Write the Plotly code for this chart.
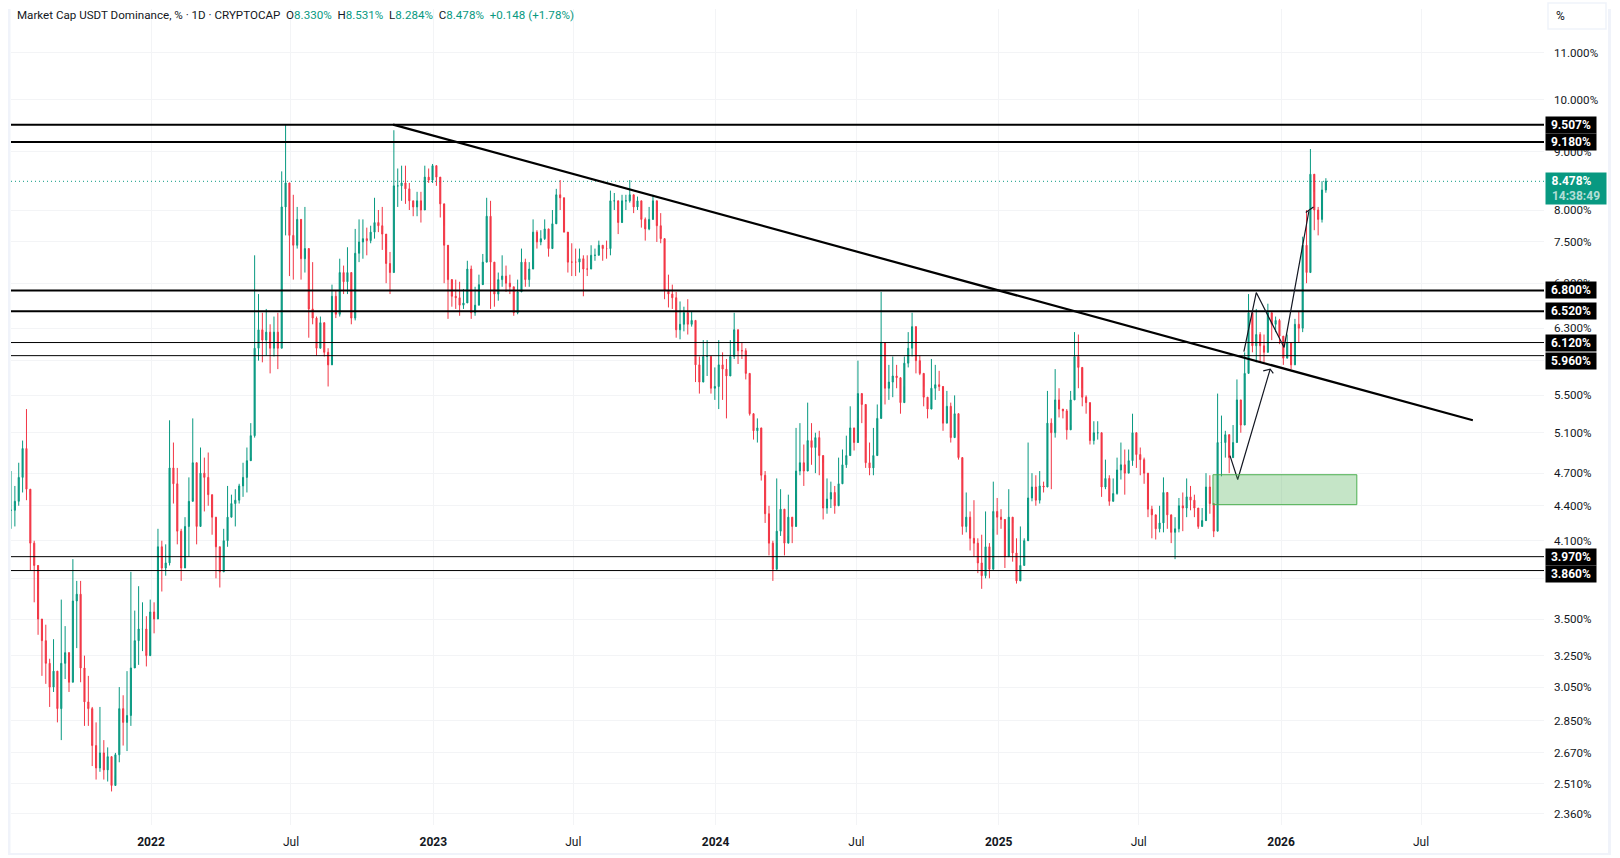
import numpy as np
import pandas as pd
import plotly.graph_objects as go

# candles, one bar per 5 days, segment by segment
closes = [
    4.36,4.44,4.66,4.94,4.55,4.08,3.90,3.50,3.35,3.20,3.05,3.15,2.92,3.20,3.27,3.08,3.63,3.68,3.17,2.96,2.92,2.71,2.59,2.67,2.58,2.65,2.50,2.66,2.92,2.84,2.88,3.17,3.35,3.43,3.43,3.25,3.55,3.50,4.05,3.88,3.92,4.75,4.60,4.18,3.88,4.22,4.44,4.80,4.22,4.70,4.66,4.50,4.30,4.05,3.85,4.10,4.30,
    4.42,4.45,4.58,4.66,4.82,5.07,6.05,6.28,6.15,6.25,6.05,6.25,6.05,8.05,8.45,7.60,7.45,7.85,7.25,7.40,6.55,6.43,6.05,6.37,6.00,5.85,6.72,6.48,7.05,6.92,7.05,6.43,7.33,7.50,7.55,7.52,7.65,7.80,7.75,7.62,7.18,7.05,8.40,8.40,8.45,8.35,8.15,8.05,8.15,8.00,8.55,8.50,8.75,8.55,8.10,7.45,6.95,
    6.72,6.70,6.60,6.63,7.10,6.50,6.60,6.88,7.20,7.90,7.20,6.75,6.95,7.00,6.90,6.85,6.50,6.78,7.20,6.95,7.10,7.65,7.50,7.55,7.70,7.40,7.78,8.25,8.20,7.65,7.20,7.20,7.20,7.25,7.10,7.10,7.30,7.30,7.45,7.40,7.40,8.15,8.15,7.80,8.15,8.15,8.25,8.05,8.15,7.85,7.70,7.85,8.15,7.75,7.55,6.80,6.75,
    6.70,6.28,6.35,6.50,6.35,6.40,5.85,5.65,5.95,5.95,5.58,5.60,5.85,5.80,5.72,5.95,6.28,6.02,6.02,5.75,5.30,5.12,5.15,4.68,4.33,4.08,3.87,4.18,4.37,4.08,4.30,4.22,4.72,4.80,4.72,5.02,4.95,5.05,4.87,4.38,4.46,4.52,4.40,4.60,4.78,4.87,5.15,5.00,5.52,5.40,4.80,4.75,4.87,5.25,6.12,5.58,5.65,
    5.72,5.70,5.42,5.87,6.05,6.32,5.90,5.75,5.48,5.35,5.58,5.62,5.60,5.20,5.38,5.05,5.30,4.85,4.22,4.30,4.12,4.08,3.92,3.82,4.05,3.87,4.35,4.30,4.28,3.97,4.30,4.00,3.78,3.90,4.10,4.47,4.57,4.45,4.58,4.57,5.20,5.10,5.45,5.35,5.33,5.13,5.45,5.95,5.82,5.48,5.42,5.02,5.10,5.10,4.57,4.65,4.44,
    4.51,4.73,4.78,4.70,4.82,5.10,4.88,4.83,4.70,4.37,4.32,4.20,4.25,4.52,4.32,4.17,4.20,4.40,4.38,4.48,4.45,4.38,4.22,4.27,4.57,4.42,4.18,5.00,5.00,5.08,4.85,5.00,5.45,5.18,5.75,6.50,6.08,6.22,6.08,6.00,6.50,6.35,6.40,6.20,5.93,6.12,5.85,6.35,6.30,7.45,7.05,8.60,8.00,7.85,8.33,8.478,
]
highs = [
    4.72,4.58,4.80,5.02,5.35,4.50,4.10,3.72,3.50,3.46,3.23,3.36,3.10,3.64,3.45,3.25,3.95,3.78,3.78,3.25,3.12,2.93,2.84,2.93,2.74,2.70,2.65,2.67,3.05,3.00,3.15,3.85,3.56,3.74,3.62,3.52,3.64,3.62,4.20,4.10,4.07,5.23,5.00,4.75,4.20,4.30,4.66,5.25,4.80,4.95,4.85,4.90,4.50,4.30,4.05,4.20,4.58,
    4.50,4.55,4.60,4.80,4.95,5.20,7.30,6.75,6.50,6.55,6.35,6.45,6.50,8.65,9.50,8.35,8.25,8.05,7.70,8.05,7.25,7.20,6.45,6.45,6.35,6.05,6.88,6.80,7.25,7.15,7.42,7.05,7.70,7.85,7.85,7.72,7.75,8.20,8.00,8.05,7.40,7.35,9.40,8.70,8.75,8.75,8.45,8.15,8.30,8.30,8.75,8.70,8.78,8.70,8.45,7.75,7.38,
    6.90,6.95,6.92,6.82,7.22,7.15,6.85,7.02,7.32,8.20,8.15,7.08,7.05,7.30,7.15,7.02,6.85,6.95,7.40,7.25,7.20,7.85,7.68,7.68,7.85,7.60,8.00,8.35,8.50,8.10,7.42,7.48,7.40,7.40,7.30,7.30,7.45,7.40,7.52,7.45,7.52,8.32,8.28,8.12,8.25,8.25,8.50,8.20,8.22,8.15,7.88,8.05,8.25,7.98,7.95,7.50,7.02,
    6.88,6.78,6.65,6.58,6.68,6.52,6.16,5.95,6.15,6.15,5.72,5.82,6.15,6.00,5.92,6.15,6.50,6.18,6.12,6.05,5.62,5.28,5.25,5.03,4.72,4.40,4.10,4.65,4.55,4.24,4.50,4.30,5.15,5.20,4.98,5.42,5.20,5.10,5.12,4.80,4.65,4.62,4.58,4.85,4.93,5.07,5.38,5.15,5.90,5.50,5.05,5.00,5.15,5.40,6.78,6.08,5.85,
    5.95,5.85,5.50,5.95,6.25,6.50,6.08,5.96,5.60,5.38,5.92,5.85,5.78,5.40,5.55,5.42,5.50,4.95,4.65,4.52,4.35,4.45,4.12,4.15,4.35,4.08,4.62,4.47,4.37,4.12,4.55,4.25,4.12,4.22,4.12,5.00,4.70,4.68,4.72,4.62,5.55,5.25,5.80,5.58,5.35,5.35,5.55,6.25,6.22,5.58,5.50,5.12,5.22,5.22,4.85,4.83,4.68,
    4.65,4.85,5.00,4.93,4.93,5.30,4.90,4.95,4.85,4.45,4.40,4.30,4.40,4.66,4.50,4.30,4.30,4.47,4.52,4.65,4.58,4.50,4.38,4.38,4.70,4.68,4.30,5.52,5.28,5.12,5.05,5.18,5.68,5.45,6.00,6.75,6.42,6.55,6.25,6.22,6.62,6.48,6.45,6.42,6.10,6.22,6.05,6.42,6.52,7.58,8.00,9.05,8.30,8.05,8.48,8.531,
]
lows = [
    4.20,4.22,4.40,4.52,4.45,3.86,3.62,3.39,3.12,3.07,2.93,3.02,2.84,2.74,3.10,3.02,3.08,3.30,3.08,2.82,2.82,2.60,2.53,2.57,2.53,2.52,2.47,2.55,2.62,2.71,2.68,2.82,3.20,3.19,3.28,3.18,3.41,3.40,3.50,3.70,3.82,3.90,4.42,4.07,3.78,3.95,3.97,4.47,4.07,4.22,4.35,4.40,4.15,3.80,3.73,3.85,4.05,
    4.35,4.22,4.42,4.48,4.52,4.85,5.05,5.90,5.88,5.96,5.75,5.95,5.80,6.05,7.60,7.00,6.95,7.40,6.95,7.05,6.18,6.35,5.96,6.12,5.95,5.60,5.96,6.43,6.45,6.75,6.75,6.35,6.40,7.20,7.25,7.30,7.48,7.55,7.65,7.38,6.90,6.75,7.05,8.05,8.15,8.10,8.00,7.90,7.90,7.80,8.00,8.45,8.45,8.40,7.88,6.90,6.42,
    6.58,6.55,6.46,6.55,6.90,6.42,6.46,6.78,6.90,7.25,6.55,6.58,6.66,6.85,6.78,6.75,6.46,6.48,6.85,6.85,6.85,7.22,7.40,7.45,7.53,7.28,7.42,7.88,8.00,7.65,7.05,7.00,7.00,7.05,6.72,7.00,7.10,7.22,7.30,7.22,7.25,7.30,8.00,7.62,8.00,8.00,8.12,7.95,8.00,7.72,7.52,7.68,7.95,7.50,7.48,6.68,6.57,
    6.55,6.18,6.16,6.26,6.22,6.32,5.65,5.52,5.72,5.72,5.52,5.45,5.35,5.45,5.25,5.72,5.92,5.86,5.92,5.68,5.28,5.03,5.00,4.63,4.25,3.98,3.78,4.08,4.14,3.98,4.14,4.08,4.50,4.68,4.58,4.80,4.78,4.70,4.68,4.28,4.33,4.38,4.33,4.50,4.68,4.75,5.00,4.92,5.25,5.20,4.75,4.68,4.68,4.92,5.50,5.40,5.45,
    5.48,5.58,5.30,5.60,5.82,5.95,5.75,5.73,5.38,5.25,5.40,5.45,5.55,5.12,5.20,5.00,5.12,4.83,4.15,4.17,4.02,3.97,3.84,3.72,3.80,3.80,4.20,4.15,4.20,3.88,4.20,3.93,3.76,3.85,3.90,4.25,4.44,4.40,4.42,4.52,4.83,4.55,5.05,5.26,5.25,5.03,5.18,5.55,5.58,5.38,5.30,4.98,4.98,5.03,4.48,4.55,4.40,
    4.45,4.50,4.64,4.50,4.70,4.77,4.75,4.68,4.60,4.30,4.12,4.11,4.17,4.17,4.20,4.08,3.95,4.17,4.18,4.30,4.36,4.30,4.20,4.22,4.44,4.33,4.13,4.18,4.67,4.85,4.70,4.96,5.00,5.10,5.18,5.75,6.00,5.88,5.88,5.88,6.00,6.15,6.25,6.10,5.85,5.98,5.80,5.85,6.12,6.25,6.90,7.05,7.68,7.60,7.80,8.284,
]
# each open is the previous close, the market never shuts
opens = [closes[0]] + closes[:-1]
dates = pd.date_range("2021-07-04", periods=len(closes), freq="5D")

last_price = 8.478

# horizontal levels drawn on the chart
level_prices = [9.507, 9.18, 6.8, 6.52, 6.12, 5.96, 3.97, 3.86]
level_widths = [2, 2, 2, 2, 1, 1, 1, 1]
level_labels = ["9.507%", "9.180%", "6.800%", "6.520%", "6.120%", "5.960%", "3.970%", "3.860%"]
level_shifts = [0, 0, 0, 0, 0, -5, 0, -3]

trend_dates = ["2022-11-10", "2026-09-06"]
trend_prices = [9.507, 5.23]

leg1_dates = ["2025-10-27", "2025-11-06", "2025-12-18"]
leg1_prices = [4.87, 4.64, 5.80]
head1_dates = ["2025-12-09", "2025-12-18", "2025-12-22"]
head1_prices = [5.78, 5.80, 5.75]

leg2_dates = ["2025-11-14", "2025-11-30", "2026-01-05", "2026-02-06"]
leg2_prices = [6.01, 6.77, 6.06, 7.98]
head2_dates = ["2026-02-02", "2026-02-12"]
head2_prices = [7.96, 8.05]

box_dates = ["2025-10-05", "2026-04-09", "2026-04-09", "2025-10-05", "2025-10-05"]
box_prices = [4.685, 4.685, 4.41, 4.41, 4.685]

ytick_vals = [11, 10, 9, 8, 7.5, 6.9, 6.3, 5.9, 5.5, 5.1, 4.7, 4.4, 4.1, 3.8, 3.5, 3.25, 3.05, 2.85, 2.67, 2.51, 2.36]
# 5.9 and 3.8 sit fully behind the level tags, only their gridlines show
ytick_text = ["" if v in (5.9, 3.8) else "%.3f%%" % v for v in ytick_vals]
xtick_vals = ["2022-01-01", "2022-07-01", "2023-01-01", "2023-07-01", "2024-01-01", "2024-07-01",
              "2025-01-01", "2025-07-01", "2026-01-01", "2026-07-01"]
xtick_text = ["<b>2022</b>", "Jul", "<b>2023</b>", "Jul", "<b>2024</b>", "Jul", "<b>2025</b>", "Jul", "<b>2026</b>", "Jul"]

x_left = "2021-07-04"
x_right = "2026-12-07"

UP = "#089981"
DOWN = "#F23645"
INK = "#131722"
GRID = "#F3F4F6"
FONT = "Roboto, sans-serif"

W, H = 1620, 858
L, R, T, B = 11, 76, 9, 31


def px_x(p):
    return (p - L) / (W - L - R)


def px_y(p):
    return 1 - (p - T) / (H - T - B)


fig = go.Figure()

fig.add_trace(go.Candlestick(
    x=dates, open=opens, high=highs, low=lows, close=closes,
    increasing=dict(line=dict(color=UP, width=1), fillcolor=UP),
    decreasing=dict(line=dict(color=DOWN, width=1), fillcolor=DOWN),
    whiskerwidth=0, showlegend=False, hoverinfo="skip",
))

# last price line
fig.add_trace(go.Scatter(x=[x_left, x_right], y=[last_price, last_price], mode="lines",
                         line=dict(color=UP, width=1, dash="1px,3px"), showlegend=False, hoverinfo="skip"))

for price, width in zip(level_prices, level_widths):
    fig.add_trace(go.Scatter(x=[x_left, x_right], y=[price, price], mode="lines",
                             line=dict(color="#000000", width=width), showlegend=False, hoverinfo="skip"))

fig.add_trace(go.Scatter(x=trend_dates, y=trend_prices, mode="lines",
                         line=dict(color="#000000", width=2.2), showlegend=False, hoverinfo="skip"))

for xs, ys in [(leg1_dates, leg1_prices), (head1_dates, head1_prices),
               (leg2_dates, leg2_prices), (head2_dates, head2_prices)]:
    fig.add_trace(go.Scatter(x=xs, y=ys, mode="lines",
                             line=dict(color=INK, width=1.2), showlegend=False, hoverinfo="skip"))

fig.add_trace(go.Scatter(x=box_dates, y=box_prices, mode="lines", fill="toself",
                         fillcolor="rgba(76,175,80,0.32)", line=dict(color="#4CAF50", width=1),
                         showlegend=False, hoverinfo="skip"))

# level tags on the price axis
for price, label, shift in zip(level_prices, level_labels, level_shifts):
    fig.add_annotation(xref="paper", yref="y", x=1, y=np.log10(price), xanchor="left", yanchor="middle",
                       xshift=1, yshift=shift, text="<b>%s</b>" % label, showarrow=False,
                       width=50, height=16, borderpad=0, bgcolor="#000000", align="center",
                       font=dict(family=FONT, size=12, color="#FFFFFF"))

# last price tag with countdown
fig.add_annotation(xref="paper", yref="y", x=1, y=np.log10(last_price), xanchor="left", yanchor="middle",
                   xshift=1, yshift=-7,
                   text="<b>8.478%</b>&nbsp;&nbsp;&nbsp;<br><span style='color:rgba(255,255,255,0.7)'><b>14:38:49</b></span>",
                   showarrow=False, width=60, height=31, borderpad=0, bgcolor=UP, align="center",
                   font=dict(family=FONT, size=12, color="#FFFFFF"))

# % button top right
fig.add_shape(type="rect", xref="paper", yref="paper", x0=px_x(1548), x1=px_x(1606), y0=px_y(29), y1=px_y(3),
              line=dict(color="#F0F3FA", width=1.5), fillcolor="#FFFFFF", layer="above")
fig.add_annotation(xref="paper", yref="paper", x=px_x(1554), y=px_y(16), xanchor="left", yanchor="middle",
                   text="%", showarrow=False, font=dict(family=FONT, size=12, color=INK))

# thin frame around the widget
for x0, x1, y0, y1 in [(8, 10.5, 9, 857), (1608, 1611, 9, 857), (8, 1611, 855, 857)]:
    fig.add_shape(type="rect", xref="paper", yref="paper", x0=px_x(x0), x1=px_x(x1), y0=px_y(y1), y1=px_y(y0),
                  line=dict(width=0), fillcolor="#F0F3FA", layer="above")

# header line
val = "<span style='color:%s'>%%s</span>" % UP
header = ("Market Cap USDT Dominance, %&nbsp;·&nbsp;1D&nbsp;·&nbsp;CRYPTOCAP&nbsp;&nbsp;"
          + "O" + val % "8.330%" + "&nbsp;&nbsp;H" + val % "8.531%" + "&nbsp;&nbsp;L" + val % "8.284%"
          + "&nbsp;&nbsp;C" + val % "8.478%" + "&nbsp;&nbsp;" + val % "+0.148 (+1.78%)")
fig.add_annotation(xref="paper", yref="paper", x=px_x(15), y=px_y(15), xanchor="left", yanchor="middle",
                   text=header, showarrow=False, font=dict(family=FONT, size=11.6, color=INK))

fig.update_layout(
    width=W, height=H, autosize=False,
    margin=dict(l=L, r=R, t=T, b=B),
    paper_bgcolor="#FFFFFF", plot_bgcolor="#FFFFFF",
    font=dict(family=FONT, size=12, color=INK),
    showlegend=False,
    boxgap=0.6,
)
fig.update_xaxes(type="date", range=[x_left, x_right], rangeslider_visible=False,
                 tickmode="array", tickvals=xtick_vals, ticktext=xtick_text,
                 showgrid=True, gridcolor=GRID, gridwidth=1, zeroline=False, showline=False, ticks="",
                 ticklabelstandoff=8, tickfont=dict(size=12, color=INK))
fig.update_yaxes(type="log", side="right", range=[np.log10(2.308), np.log10(12.01)],
                 tickmode="array", tickvals=ytick_vals, ticktext=ytick_text,
                 showgrid=True, gridcolor=GRID, gridwidth=1, zeroline=False, showline=False, ticks="",
                 ticklabelstandoff=9, tickfont=dict(size=11.6, color=INK))

fig.write_html("out.html", config=dict(displayModeBar=False),
               post_script="document.body.style.margin='0';document.body.style.overflow='hidden';")
